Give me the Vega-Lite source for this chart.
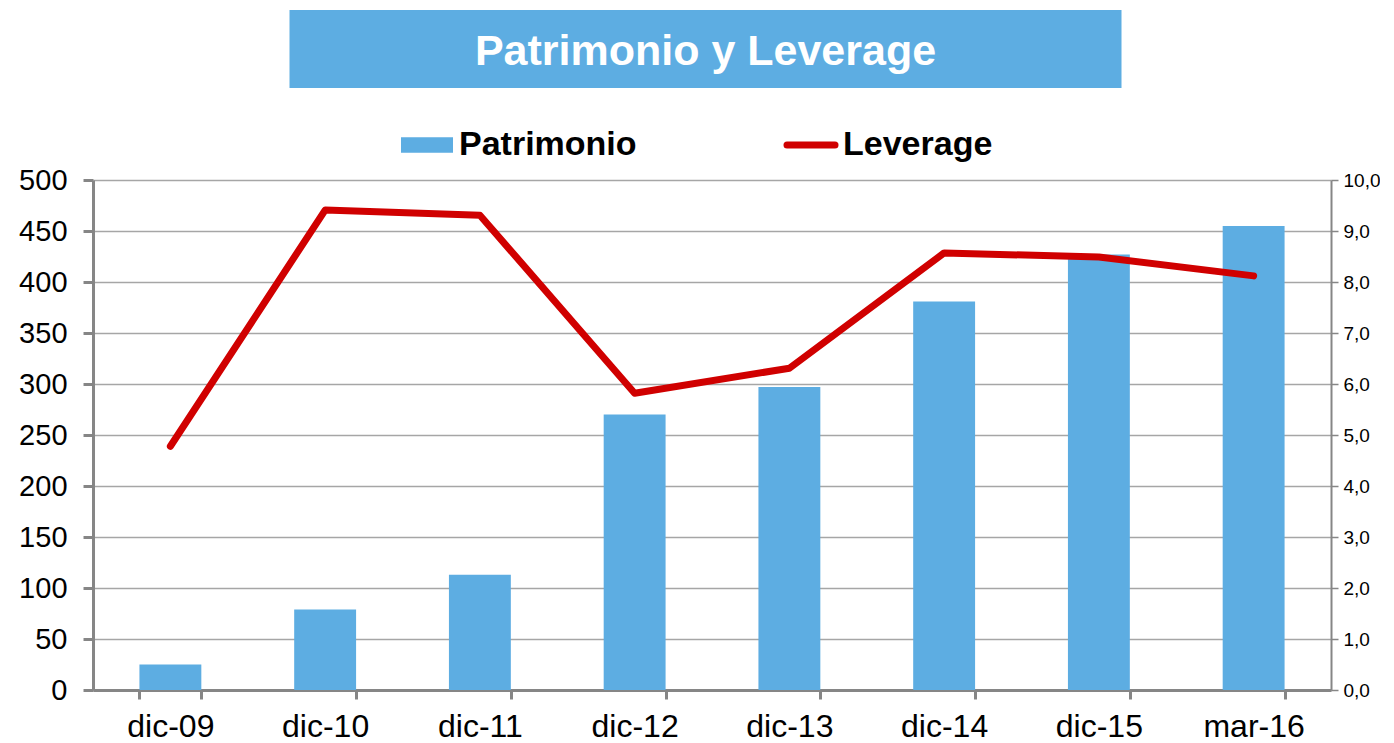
{
  "$schema": "https://vega.github.io/schema/vega-lite/v6.json",
  "padding": {"left": 18, "top": 10, "right": 0, "bottom": 0},
  "background": "white",
  "config": {"view": {"stroke": null}, "font": "Liberation Sans"},
  "center": true,
  "spacing": 78,
  "vconcat": [
    {
      "width": 832,
      "height": 78,
      "view": {"fill": "#5DADE2", "stroke": null},
      "data": {"values": [{"titulo": "Patrimonio y Leverage"}]},
      "mark": {"type": "text", "font": "Liberation Sans", "fontWeight": "bold", "fontSize": 43, "color": "white", "baseline": "middle", "align": "center", "dy": 3},
      "encoding": {
        "text": {"field": "titulo"},
        "y": {"datum": "t", "type": "nominal", "axis": {"orient": "right", "title": null, "domain": false, "ticks": false, "labels": false, "grid": false, "minExtent": 62, "maxExtent": 62}}
      }
    },
    {
      "width": 1238,
      "height": 510,
      "data": {"values": [
        {"fecha": "dic-09", "patrimonio": 25, "leverage": 4.78},
        {"fecha": "dic-10", "patrimonio": 79, "leverage": 9.41},
        {"fecha": "dic-11", "patrimonio": 113, "leverage": 9.31},
        {"fecha": "dic-12", "patrimonio": 270, "leverage": 5.82},
        {"fecha": "dic-13", "patrimonio": 297, "leverage": 6.31},
        {"fecha": "dic-14", "patrimonio": 381, "leverage": 8.57},
        {"fecha": "dic-15", "patrimonio": 427, "leverage": 8.49},
        {"fecha": "mar-16", "patrimonio": 455, "leverage": 8.12}
      ]},
      "encoding": {
        "x": {
          "field": "fecha", "type": "nominal", "sort": null,
          "scale": {"paddingInner": 0.6, "paddingOuter": 0.3},
          "axis": {
            "title": null, "labelAngle": 0, "labelFontSize": 32, "labelColor": "black",
            "domainColor": "#868686", "domainWidth": 3, "tickColor": "#868686", "tickWidth": 3,
            "tickSize": 9, "tickBand": "extent", "labelPadding": 12
          }
        }
      },
      "layer": [
        {
          "mark": {"type": "bar"},
          "encoding": {
            "y": {
              "field": "patrimonio", "type": "quantitative",
              "scale": {"domain": [0, 500], "nice": false},
              "axis": {
                "orient": "left", "title": null, "values": [0, 50, 100, 150, 200, 250, 300, 350, 400, 450, 500],
                "labelFontSize": 29, "labelColor": "black", "labelPadding": 16,
                "domainColor": "#868686", "domainWidth": 3, "tickColor": "#868686", "tickWidth": 3, "tickSize": 10,
                "grid": true, "gridColor": "#A6A6A6", "gridWidth": 1.3
              }
            },
            "color": {
              "datum": "Patrimonio", "type": "nominal",
              "scale": {"domain": ["Patrimonio", "Leverage"], "range": ["#5DADE2", "#D00000"]},
              "legend": {
                "orient": "none", "legendX": 317, "legendY": 118, "direction": "horizontal",
                "title": null, "labelFontSize": 34, "labelFontWeight": "bold", "labelColor": "black",
                "labelFont": "Liberation Sans", "labelLimit": 400,
                "columnPadding": 136, "symbolSize": 2704, "labelOffset": 15,
                "encode": {
                  "symbols": {
                    "update": {
                      "shape": {"signal": "datum.value === 'Leverage' ? 'M-1,0H1' : 'M-1,-0.3H1V0.3H-1Z'"},
                      "size": {"signal": "datum.value === 'Leverage' ? 2304 : 2704"},
                      "strokeWidth": {"signal": "datum.value === 'Leverage' ? 7 : 0"},
                      "fill": {"signal": "datum.value === 'Leverage' ? 'transparent' : '#5DADE2'"},
                      "stroke": {"signal": "datum.value === 'Leverage' ? '#D00000' : 'transparent'"},
                      "strokeCap": {"value": "round"},
                      "opacity": {"value": 1}
                    }
                  }
                }
              }
            }
          }
        },
        {
          "mark": {"type": "line", "strokeWidth": 7, "strokeCap": "round", "strokeJoin": "round"},
          "encoding": {
            "y": {
              "field": "leverage", "type": "quantitative",
              "scale": {"domain": [0, 10], "nice": false},
              "axis": {
                "orient": "right", "title": null, "values": [0, 1, 2, 3, 4, 5, 6, 7, 8, 9, 10],
                "labelExpr": "replace(format(datum.value, '.1f'), '.', ',')",
                "labelFontSize": 19, "labelColor": "black", "labelPadding": 5,
                "domainColor": "#868686", "domainWidth": 2, "tickColor": "#868686", "tickWidth": 1.5, "tickSize": 7,
                "grid": false
              }
            },
            "color": {"datum": "Leverage", "type": "nominal"}
          }
        }
      ],
      "resolve": {"scale": {"y": "independent"}}
    }
  ]
}
